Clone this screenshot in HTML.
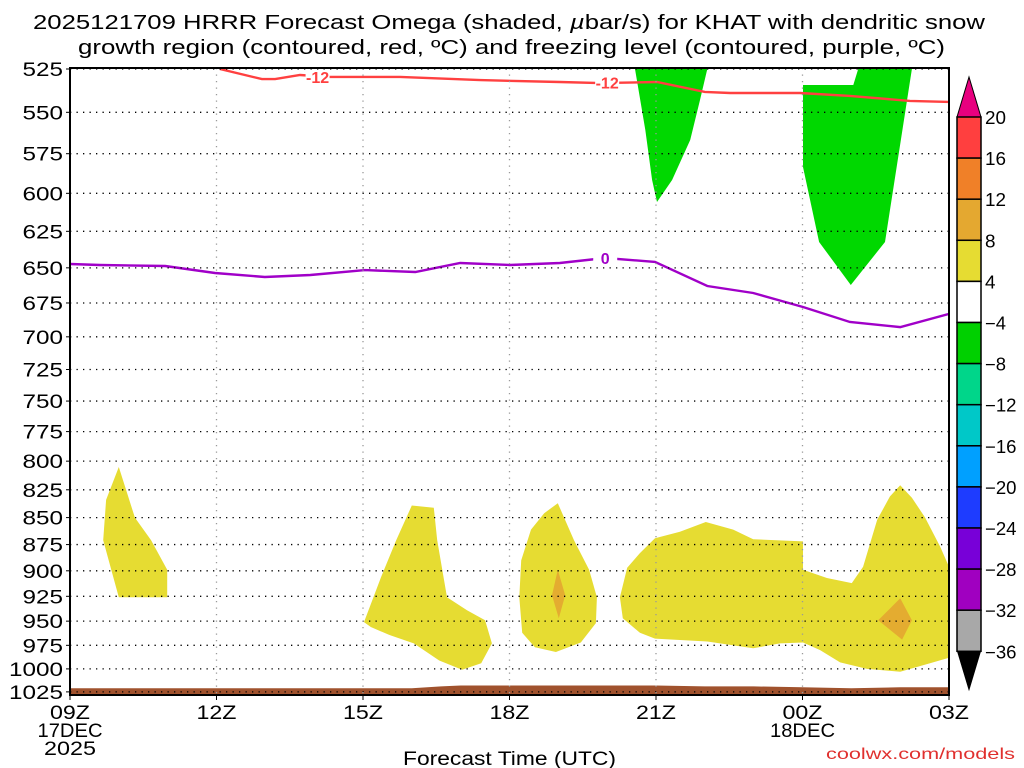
<!DOCTYPE html>
<html><head><meta charset="utf-8"><style>
html,body{margin:0;padding:0;background:#fff;width:1024px;height:768px;overflow:hidden}
svg{display:block}
text{font-family:"Liberation Sans",sans-serif;fill:#000}
</style></head><body>
<svg id="chart" width="1024" height="768" xmlns="http://www.w3.org/2000/svg">
<text x="33" y="29" font-size="20.5" textLength="952" lengthAdjust="spacingAndGlyphs">2025121709 HRRR Forecast Omega (shaded, <tspan font-style="italic">µ</tspan>bar/s) for KHAT with dendritic snow</text>
<text x="78" y="54" font-size="20.5" textLength="867" lengthAdjust="spacingAndGlyphs">growth region (contoured, red, ºC) and freezing level (contoured, purple, ºC)</text>
<g id="plot"></g>
<g id="axes"></g>
<g id="cbar"></g>
<text x="403" y="765" font-size="19" textLength="213" lengthAdjust="spacingAndGlyphs">Forecast Time (UTC)</text>
<text x="826" y="759" font-size="16" textLength="189" lengthAdjust="spacingAndGlyphs" fill="#e0302e" style="fill:#e0302e">coolwx.com/models</text>
</svg>
<script>
// ---- data ----
const pressureTicks = [525,550,575,600,625,650,675,700,725,750,775,800,825,850,875,900,925,950,975,1000,1025];
const hourTicks = [0,3,6,9,12,15,18];
const hourTickLabels = ["09Z","12Z","15Z","18Z","21Z","00Z","03Z"];
const dateLabels = {0:["17DEC","2025"],15:["18DEC"]};
const greenBlob1 = [[11.57,525],[11.78,560.5],[11.92,591.5],[12.02,605.6],[12.33,591.5],[12.70,566.6],[12.90,542.8],[13.05,525]];
const greenBlob2 = [[15.01,534.1],[16.04,534.1],[16.14,525],[17.24,525],[16.69,632.2],[15.99,662.1],[15.34,632.2],[15.01,583.3]];
const yellowA = [[1.00,805],[1.33,850],[1.66,871],[1.99,899],[1.99,926],[1.00,926],[0.68,871],[0.74,834]];
const yellowB = [[6.02,951],[6.37,906],[6.68,871],[7.00,839],[7.45,841],[7.52,871],[7.72,926],[8.13,939],[8.50,949],[8.64,973],[8.42,994],[8.03,1001],[7.56,991],[7.04,973],[6.53,964],[6.16,956]];
const yellowC = [[9.99,837],[10.32,871],[10.63,899],[10.79,926],[10.77,952],[10.46,972],[9.95,982],[9.52,977],[9.26,962],[9.20,926],[9.24,890],[9.44,861],[9.71,846]];
const orangeC = [[9.99,899],[10.14,924],[10.01,947],[9.87,924]];
const yellowD = [[11.26,926],[11.41,897],[11.67,883],[11.98,869],[12.49,863],[13.02,854],[13.58,861],[13.99,870],[15.01,872],[15.01,899],[15.50,907],[16.01,912],[16.24,896],[16.53,852],[16.79,831],[17.00,821],[17.24,832],[17.51,850],[17.82,877],[18,896],[18,988],[17.61,994],[17.00,1003],[16.32,1000],[15.77,993],[15.36,980],[15.01,972],[14.54,973],[13.99,978],[13.05,971],[11.98,968],[11.67,962],[11.32,947]];
const orangeD = [[17.0,927],[17.24,949],[17.04,969],[16.55,949]];
const redLineHours = [3.07,3.93,4.20,4.71,5.32,6.76,8.40,10.03,10.85,12.02,13.0,13.52,14.95,15.97,17.2,18];
const redLineP = [525,530.7,530.7,528.4,529.5,529.5,531.3,532.4,533.0,532.4,538.1,538.7,538.7,540.4,543.3,543.9];
const purpleHours = [0,0.61,1.95,2.97,3.99,4.92,6.04,7.07,7.99,9.01,10.03,10.96,11.98,13.05,13.99,15.01,15.97,17.0,18];
const purpleP = [647.3,648.0,648.7,653.6,656.4,655.0,651.6,652.9,646.6,648.0,646.6,643.2,645.9,662.8,667.8,677.9,688.9,692.7,683.0];
const terrainHours = [0,1,2,3,4,5,6,7,7.6,8,9,10,11,12,13,14,15,16,17,18];
const terrainP = [1021,1021,1021,1021,1021,1021,1021,1021,1019,1018,1018,1018,1018,1018,1019,1019,1020,1021,1020,1020];
const cbarColors = ["#e8007f","#ff3f3f","#f08028","#e4a830","#e6dc32","#ffffff","#00d000","#00d68a","#00c8c8","#00a0ff","#1e3cff","#7800d8","#a000c0","#a8a8a8","#000000"];
const cbarLabels = ["20","16","12","8","4","−4","−8","−12","−16","−20","−24","−28","−32","−36"];

// ---- axes ----
const X0=70,X1=949,Y0=68,Y1=695;
const xs=h=>X0+h*(X1-X0)/18;
const ys=p=>69+931*Math.log(p/525);
const NS="http://www.w3.org/2000/svg";
function mk(tag,attrs,parent){const e=document.createElementNS(NS,tag);for(const k in attrs)e.setAttribute(k,attrs[k]);parent.appendChild(e);return e;}
const plot=document.getElementById('plot'),axes=document.getElementById('axes'),cbar=document.getElementById('cbar');
const defs=mk('defs',{},plot);
const cp=mk('clipPath',{id:'clip'},defs);mk('rect',{x:X0,y:Y0,width:X1-X0,height:Y1-Y0},cp);
const g=mk('g',{'clip-path':'url(#clip)'},plot);

function poly(pts,fill,name){
  const e=mk('polygon',{points:pts.map(q=>xs(q[0]).toFixed(1)+','+ys(q[1]).toFixed(1)).join(' '),fill:fill},g);
  
  
}
poly(greenBlob1,'#00d800','omega-green-region-1');
poly(greenBlob2,'#00d800','omega-green-region-2');
poly(yellowA,'#e6dc32','omega-yellow-region-a');
poly(yellowB,'#e6dc32','omega-yellow-region-b');
poly(yellowC,'#e6dc32','omega-yellow-region-c');
poly(yellowD,'#e6dc32','omega-yellow-region-d');
poly(orangeC,'#e4ac30','omega-orange-region-c');
poly(orangeD,'#e4ac30','omega-orange-region-d');
{
  let pts=terrainHours.map((h,i)=>xs(h).toFixed(1)+','+ys(terrainP[i]).toFixed(1));
  pts.push(xs(18)+','+Y1,xs(0)+','+Y1);
  const t=mk('polygon',{points:pts.join(' '),fill:'#a0522d'},g);
  
  
}
pressureTicks.forEach(p=>{
  const l=mk('line',{x1:X0,x2:X1,y1:ys(p),y2:ys(p),stroke:'#000','stroke-width':1.3,'stroke-dasharray':'1.3 5.2'},plot);
  
  
});
hourTicks.slice(1,-1).forEach(h=>{
  const l=mk('line',{x1:xs(h),x2:xs(h),y1:Y0,y2:Y1,stroke:'#999','stroke-width':1.3,'stroke-dasharray':'1.3 5.2'},plot);
  
  
});
function line(hs,ps,color,name){
  const e=mk('polyline',{points:hs.map((h,i)=>xs(h).toFixed(1)+','+ys(ps[i]).toFixed(1)).join(' '),fill:'none',stroke:color,'stroke-width':2.4},g);
  
  
}
line(redLineHours,redLineP,'#ff4040','dgz-minus12-contour');
line(purpleHours,purpleP,'#a000c8','freezing-level-contour');
function clabel(h,p,txt,color,name){
  const x=xs(h),y=ys(p);
  mk('rect',{x:x-12,y:y-8,width:24,height:16,fill:'#fff'},g);
  const t=mk('text',{x:x,y:y+6,'font-size':16,'font-weight':'bold','text-anchor':'middle',style:'fill:'+color},g);
  t.textContent=txt;
  
  
}
clabel(5.07,529.5,'-12','#ff4040','contour-label-minus12');
clabel(11.0,532.8,'-12','#ff4040','contour-label-minus12-b');
clabel(10.96,643.2,'0','#a000c8','contour-label-zero');
mk('rect',{x:X0,y:Y0,width:X1-X0,height:Y1-Y0,fill:'none',stroke:'#000','stroke-width':2},axes);
pressureTicks.forEach(p=>{
  const y=ys(p);
  mk('line',{x1:X0-4,x2:X0,y1:y,y2:y,stroke:'#000','stroke-width':1},axes);
  const s=String(p);
  const t=mk('text',{x:X0-7-s.length*13.5,y:y+7,'font-size':19,textLength:s.length*13.5,lengthAdjust:'spacingAndGlyphs'},axes);
  t.textContent=s;
  
  
});
hourTicks.forEach((h,i)=>{
  const x=xs(h);
  mk('line',{x1:x,x2:x,y1:Y1,y2:Y1+5,stroke:'#000','stroke-width':1},axes);
  const t=mk('text',{x:x-20,y:719,'font-size':19,textLength:40,lengthAdjust:'spacingAndGlyphs'},axes);
  t.textContent=hourTickLabels[i];
  
  
  (dateLabels[h]||[]).forEach((s,j)=>{
    const w=s.length*13;
    const d=mk('text',{x:x-w/2,y:737+j*18,'font-size':19,textLength:w,lengthAdjust:'spacingAndGlyphs'},axes);
    d.textContent=s;
    
    
  });
});
const CX=957,CW=24,CT=117,BH=41.1;
{
  const tri=mk('polygon',{points:`${CX},${CT} ${CX+CW},${CT} ${CX+CW/2},${CT-40}`,fill:cbarColors[0],stroke:'#000','stroke-width':1},cbar);
  
  
  for(let i=1;i<=13;i++){
    const r=mk('rect',{x:CX,y:CT+(i-1)*BH,width:CW,height:BH,fill:cbarColors[i],stroke:'#000','stroke-width':1.5},cbar);
    
    
  }
  const yb=CT+13*BH;
  const tri2=mk('polygon',{points:`${CX},${yb} ${CX+CW},${yb} ${CX+CW/2},${yb+40}`,fill:'#000'},cbar);
  
  
  cbarLabels.forEach((s,i)=>{
    const t=mk('text',{x:985,y:CT+i*BH+7,'font-size':18,textLength:s.length*10.5,lengthAdjust:'spacingAndGlyphs'},cbar);
    t.textContent=s;
    
    
  });
}
</script>
</body></html>
